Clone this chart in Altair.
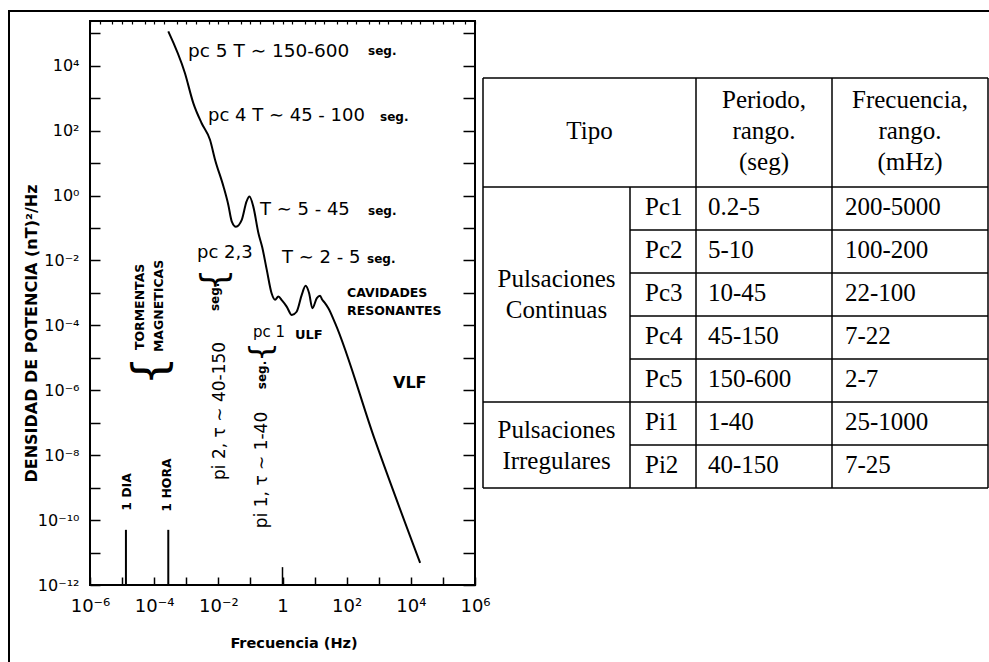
import altair as alt
import pandas as pd

# ---------------- data: spectrum curve (log10 values) -------------
curve_logf = [-3.56, -3.04, -2.78, -2.52, -2.26, -2.10, -1.84, -1.69, -1.58, -1.45,
              -1.27, -1.12, -1.03, -0.91, -0.75, -0.63, -0.49, -0.34, -0.23, -0.13,
              -0.01, 0.13, 0.29, 0.44, 0.60, 0.72, 0.83, 0.93, 1.07, 1.17,
              1.24, 1.33, 1.43, 1.64, 2.88, 4.29]
curve_logp = [5.06, 3.77, 2.85, 2.23, 1.72, 1.10, 0.28, -0.28, -0.80, -0.96,
              -0.75, -0.18, -0.03, -0.34, -1.16, -1.60, -2.29, -3.01, -3.21, -3.11,
              -3.24, -3.42, -3.68, -3.58, -3.06, -2.78, -3.01, -3.47, -3.16, -3.09,
              -3.21, -3.32, -3.47, -3.93, -7.53, -11.32]

# spikes (1 day, 1 hour)
spike_logf = [-4.88, -3.56]
spike_top_logp = [-10.30, -10.30]

# axis extents
x_exp = list(range(-6, 7))
y_exp = list(range(-12, 6))
y_top_log = 5.38

# annotations
ann_text = ["pc 5  T ∼  150-600", "pc 4  T ∼  45 - 100", "T ∼  5 - 45", "pc 2,3", "T ∼  2 - 5",
            "seg.", "seg.", "seg.", "seg.", "CAVIDADES", "RESONANTES", "pc 1", "ULF", "VLF",
            "pi 2,  τ ∼ 40-150", "pi 1,  τ ∼ 1-40",
            "TORMENTAS", "MAGNETICAS", "seg.", "seg.", "1 DIA", "1 HORA",
            "{", "{", "{"]
ann_logf = [-2.945, -2.322, -0.701, -2.665, -0.015,
            2.666, 3.04, 2.666, 2.635, 2.011, 2.011, -0.919, 0.39, 3.445,
            -1.948, -0.638,
            -4.441, -3.849, -2.104, -0.638, -4.847, -3.60,
            -4.098, -2.104, -0.638]
ann_logp = [4.461, 2.457, -0.44, -1.766, -1.92,
            4.46, 2.43, -0.47, -1.95, -3.0, -3.554, -4.2, -4.29, -5.773,
            -6.636, -8.455,
            -3.43, -3.40, -3.122, -5.527, -9.133, -8.917,
            -5.403, -2.598, -4.818]
# styles of annotations
ann_size = [18.5, 18, 18, 18, 18,
            12, 12, 12, 12, 12.5, 12.5, 15, 13, 16,
            17, 17,
            12.5, 12.5, 12, 12, 12.5, 12.5,
            46, 35, 31]
ann_angle = [0] * 14 + [270] * 11
ann_bold = [False] * 5 + [True] * 6 + [False] + [True] * 2 + [False] * 2 + [True] * 6 + [False] * 3
ann_align = ["left"] * 14 + ["center"] * 11

# ---------------- data: table ----------------
tbl_header = ["Tipo", "Periodo,\nrango.\n(seg)", "Frecuencia,\nrango.\n(mHz)"]
tbl_groups = ["Pulsaciones\nContinuas", "Pulsaciones\nIrregulares"]
tbl_group_rows = [5, 2]
tbl_types = ["Pc1", "Pc2", "Pc3", "Pc4", "Pc5", "Pi1", "Pi2"]
tbl_periods = ["0.2-5", "5-10", "10-45", "45-150", "150-600", "1-40", "40-150"]
tbl_freqs = ["200-5000", "100-200", "22-100", "7-22", "2-7", "25-1000", "7-25"]

# ---------------- layout (pixels) ----------------
W, H = 984, 657
PX0, PX1 = 81, 466     # plot frame x range inside view
PY0, PY1 = 574, 10     # plot frame y range (bottom, top)
col_edges = [0, 147, 213, 349, 505]
header_h = 109
row_h = 43
TXR = [474, 979]
TYR = [67, 477]
LINE_H = 31

XS = alt.Scale(type="log", domain=[1e-6, 1e6], range=[PX0, PX1], nice=False)
YS = alt.Scale(type="log", domain=[1e-12, 10 ** y_top_log], range=[PY0, PY1], nice=False)
tbl_total_h = header_h + row_h * len(tbl_types)
TXS = alt.Scale(domain=[0, col_edges[-1]], range=TXR, nice=False, zero=False)
TYS = alt.Scale(domain=[0, tbl_total_h], range=TYR, nice=False, zero=False)

SUP = str.maketrans("-0123456789", "⁻⁰¹²³⁴⁵⁶⁷⁸⁹")


def pow_label(k, one_as_1=False):
    if k == 0 and one_as_1:
        return "1"
    return "10" + str(k).translate(SUP)


x_labels = [pow_label(k, True) if k % 2 == 0 else "" for k in x_exp]
y_labels = [pow_label(k) if k % 2 == 0 else "" for k in y_exp]
x_label_expr = "[" + ",".join("'%s'" % s for s in x_labels) + "][round(log(datum.value)/LN10)+%d]" % (-x_exp[0])
y_label_expr = "[" + ",".join("'%s'" % s for s in y_labels) + "][round(log(datum.value)/LN10)+%d]" % (-y_exp[0])

AXFONT = "DejaVu Sans"

# ---------------- plot layers ----------------
frame_df = pd.DataFrame({"x1": [1e-6], "x2": [1e6], "y1": [1e-12], "y2": [10 ** y_top_log]})

bottom_axis = alt.Axis(orient="bottom", values=[10.0 ** k for k in x_exp], offset=(PY0 - 8) - H,
                       tickSize=8, tickWidth=1.5, tickColor="black", domain=False, grid=False,
                       labelExpr=x_label_expr, labelFont=AXFONT, labelFontSize=18, labelColor="black",
                       labelPadding=12, labelFlush=False, labelOverlap=False, labelBaseline="top",
                       title="Frecuencia (Hz)", titleFont=AXFONT, titleFontSize=14.5, titleFontWeight="bold",
                       titleColor="black", titleX=(PX0 + PX1) / 2 + 11, titleY=66, titleAlign="center",
                       titleBaseline="middle")
left_axis = alt.Axis(orient="left", values=[10.0 ** k for k in y_exp], offset=-(PX0 + 10),
                     tickSize=10, tickWidth=1.5, tickColor="black", domain=False, grid=False,
                     labelExpr=y_label_expr, labelFont=AXFONT, labelFontSize=16, labelColor="black",
                     labelPadding=11, labelFlush=False, labelOverlap=False, labelBaseline="middle",
                     title="DENSIDAD DE POTENCIA   (nT)²/Hz", titleFont=AXFONT, titleFontSize=16,
                     titleFontWeight="bold", titleColor="black", titleAngle=270,
                     titleX=-69, titleY=322, titleAlign="center", titleBaseline="middle")

frame = alt.Chart(frame_df).mark_rect(filled=False, stroke="black", strokeWidth=2).encode(
    x=alt.X("x1:Q", scale=XS, axis=bottom_axis),
    x2="x2:Q",
    y=alt.Y("y1:Q", scale=YS, axis=left_axis),
    y2="y2:Q",
)

top_vals = [m * 10.0 ** k for k in x_exp[:-1] for m in (1, 2, 5)] + [1e6]
top_axis = alt.Axis(orient="top", values=top_vals, offset=-(PY1 + 3), tickSize=3, tickWidth=1.2,
                    tickColor="black", domain=False, grid=False, labels=False, title=None)
right_axis = alt.Axis(orient="right", values=[10.0 ** k for k in y_exp], offset=(PX1 - 12) - W,
                      tickSize=12, tickWidth=1.5, tickColor="black", domain=False, grid=False,
                      labels=False, title=None)

curve_df = pd.DataFrame({"f": [10 ** v for v in curve_logf], "p": [10 ** v for v in curve_logp]})
curve = alt.Chart(curve_df).mark_line(color="black", strokeWidth=2, interpolate="monotone").encode(
    x=alt.X("f:Q", scale=XS, axis=top_axis),
    y=alt.Y("p:Q", scale=YS, axis=right_axis),
)

spike_df = pd.DataFrame({"f": [10 ** v for v in spike_logf], "p0": [1e-12] * 2,
                         "p1": [10 ** v for v in spike_top_logp]})
spikes = alt.Chart(spike_df).mark_rule(color="black", strokeWidth=2).encode(
    x=alt.X("f:Q", scale=XS, axis=None),
    y=alt.Y("p0:Q", scale=YS, axis=None),
    y2="p1:Q",
)

one_hz_df = pd.DataFrame({"f": [1.0], "p0": [1e-12], "p1": [10 ** -11.45]})
one_hz = alt.Chart(one_hz_df).mark_rule(color="black", strokeWidth=1.5).encode(
    x=alt.X("f:Q", scale=XS, axis=None),
    y=alt.Y("p0:Q", scale=YS, axis=None),
    y2="p1:Q",
)

ann_df = pd.DataFrame({"t": ann_text, "f": [10 ** v for v in ann_logf], "p": [10 ** v for v in ann_logp],
                       "s": ann_size, "a": ann_angle, "b": ann_bold, "al": ann_align})

ann_layers = []
for (bold, align), sub in ann_df.groupby(["b", "al"]):
    ann_layers.append(
        alt.Chart(sub.reset_index(drop=True)).mark_text(
            align=align, baseline="middle", font=AXFONT,
            fontWeight="bold" if bold else "normal", color="black").encode(
            x=alt.X("f:Q", scale=XS, axis=None),
            y=alt.Y("p:Q", scale=YS, axis=None),
            text="t:N",
            size=alt.Size("s:Q", scale=None, legend=None),
            angle=alt.Angle("a:Q", scale=None, legend=None),
        )
    )

# ---------------- table layers ----------------
row_edges = [0, header_h] + [header_h + row_h * (i + 1) for i in range(len(tbl_types))]
segs = []
group_ends = set()
acc = 0
for n in tbl_group_rows:
    acc += n
    group_ends.add(acc)
for i, yv in enumerate(row_edges):
    if i <= 1 or (i - 1) in group_ends:
        segs.append((col_edges[0], yv, col_edges[-1], yv))
    else:
        segs.append((col_edges[1], yv, col_edges[-1], yv))
for j, xv in enumerate(col_edges):
    if j == 1:
        segs.append((xv, row_edges[1], xv, row_edges[-1]))
    else:
        segs.append((xv, row_edges[0], xv, row_edges[-1]))
seg_df = pd.DataFrame(segs, columns=["x1", "y1", "x2", "y2"])
tbl_lines = alt.Chart(seg_df).mark_rule(color="black", strokeWidth=1.5).encode(
    x=alt.X("x1:Q", scale=TXS, axis=None), x2="x2:Q",
    y=alt.Y("y1:Q", scale=TYS, axis=None), y2="y2:Q",
)


def block_top(text, yc):
    # first-line centre of a multi-line text block centred on yc
    n = text.count("\n") + 1
    return yc - (n - 1) * LINE_H / 2


center_rows = []
center_rows.append((tbl_header[0], (col_edges[0] + col_edges[2]) / 2, block_top(tbl_header[0], header_h / 2 - 2)))
center_rows.append((tbl_header[1], (col_edges[2] + col_edges[3]) / 2, block_top(tbl_header[1], header_h / 2 - 2)))
center_rows.append((tbl_header[2], (col_edges[3] + col_edges[4]) / 2, block_top(tbl_header[2], header_h / 2 - 2)))
start = 0
for name, n in zip(tbl_groups, tbl_group_rows):
    y0 = header_h + row_h * start
    center_rows.append((name, (col_edges[0] + col_edges[1]) / 2, block_top(name, y0 + row_h * n / 2)))
    start += n
center_df = pd.DataFrame(center_rows, columns=["t", "x", "y"])

left_rows = []
for i, (tp, pr, fr) in enumerate(zip(tbl_types, tbl_periods, tbl_freqs)):
    yc = header_h + row_h * i + row_h / 2 - 1.5
    left_rows.append((tp, col_edges[1] + 15, yc))
    left_rows.append((pr, col_edges[2] + 12, yc))
    left_rows.append((fr, col_edges[3] + 13, yc))
left_df = pd.DataFrame(left_rows, columns=["t", "x", "y"])

TFONT = "Liberation Serif"
tbl_center = alt.Chart(center_df).mark_text(align="center", baseline="middle", font=TFONT, fontSize=25,
                                            lineBreak="\n", lineHeight=LINE_H, color="black").encode(
    x=alt.X("x:Q", scale=TXS, axis=None), y=alt.Y("y:Q", scale=TYS, axis=None), text="t:N")
tbl_left = alt.Chart(left_df).mark_text(align="left", baseline="middle", font=TFONT, fontSize=25,
                                        color="black").encode(
    x=alt.X("x:Q", scale=TXS, axis=None), y=alt.Y("y:Q", scale=TYS, axis=None), text="t:N")

chart = alt.layer(frame, curve, spikes, one_hz, *ann_layers, tbl_lines, tbl_center, tbl_left).resolve_scale(
    x="independent", y="independent").resolve_axis(x="independent", y="independent").properties(
    width=W, height=H,
    autosize=alt.AutoSizeParams(type="none"),
    padding={"left": 9, "top": 11, "right": -4, "bottom": -6},
    background="white",
).configure_view(stroke="black", strokeWidth=2)

chart.save("out.html", embed_options={"renderer": "svg", "actions": False})
